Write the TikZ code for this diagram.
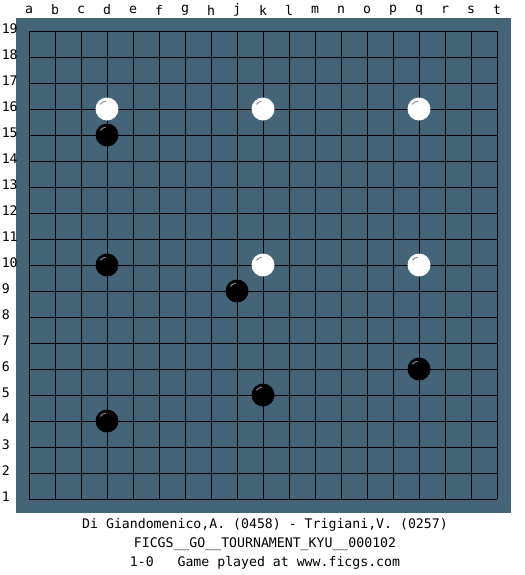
\documentclass[tikz,border=0pt]{standalone}
\usepackage{fontspec}
\setmonofont{DejaVu Sans Mono}
\usetikzlibrary{positioning}
\definecolor{board}{RGB}{67,101,119}
\definecolor{glint}{RGB}{140,140,140}
% stone at column #1 (a=0), row #2, colour #3
\newcommand\stn[3]{\fill[#3] (29+26*#1,499-26*#2+26) circle (11.5);
  \draw[glint,line width=0.75pt] (29+26*#1,499-26*#2+26) ++(-100:8) arc (-100:-145:8);}

\begin{document}
\begin{tikzpicture}[x=0.75pt,y=-0.75pt,
  lbl/.style={font=\ttfamily\fontsize{9.9}{12}\selectfont,inner sep=0pt},
  gridline/.style={black,line width=0.75pt}]
\useasboundingbox (0,0) rectangle (525,575);
\fill[board] (16,18) rectangle (511,513);
\foreach \i in {0,...,18} {
  \draw[gridline] (29+26*\i,31) -- (29+26*\i,499);
  \draw[gridline] (29,31+26*\i) -- (497,31+26*\i);
}
% coordinates
\foreach \l [count=\i from 0] in {a,b,c,d,e,f,g,h,j,k,l,m,n,o,p,q,r,s,t}
  \node[lbl] (col-\l) at (29+26*\i,10) {\l};
\foreach \r in {1,...,19}
  \node[lbl,anchor=west] (row-\r) at (1.5,497-26*\r+26) {\r};
% stones
\foreach \c/\r in {3/16,9/16,15/16,9/10,15/10} {\stn{\c}{\r}{white}}
\foreach \c/\r in {3/15,3/10,8/9,9/5,15/6,3/4} {\stn{\c}{\r}{black}}
% game info
\node[lbl] (players) at (265,525) {Di Giandomenico,A. (0458) - Trigiani,V. (0257)};
\node[lbl] (event) at (265,544) {FICGS\_\_GO\_\_TOURNAMENT\_KYU\_\_000102};
\node[lbl] (result) at (265,563) {1-0\ \ \ Game played at www.ficgs.com};
\end{tikzpicture}
\end{document}
